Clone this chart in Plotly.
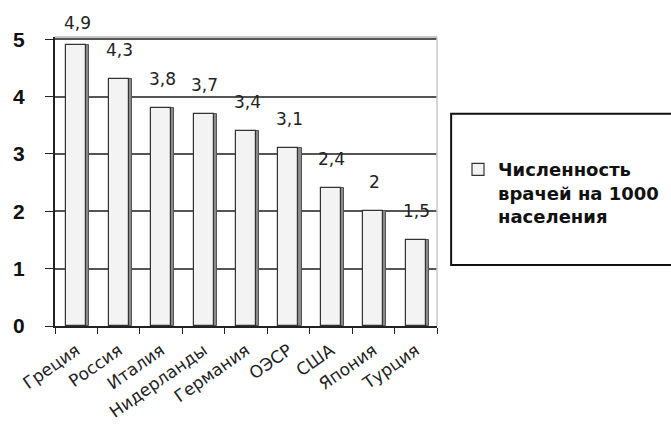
import plotly.graph_objects as go

# Physicians per 1000 population
countries = ["Греция", "Россия", "Италия", "Нидерланды", "Германия",
             "ОЭСР", "США", "Япония", "Турция"]
doctors = [4.9, 4.3, 3.8, 3.7, 3.4, 3.1, 2.4, 2.0, 1.5]
series_name = "Численность<br>врачей на 1000<br>населения"
y_ticks = [0, 1, 2, 3, 4, 5]

FONT = "Liberation Sans, Arial, sans-serif"
WIDE = "DejaVu Sans, Verdana, sans-serif"
BAR_W = 0.47
SIDE = 0.075
Y_MAX = 5.04
PLOT_H = 289  # plot area height in px

fig = go.Figure()

# darker side face gives the bars a slight 3D look
fig.add_trace(go.Bar(
    x=countries, y=doctors, width=BAR_W, offset=-BAR_W / 2 + SIDE,
    marker=dict(color="#8a8a8a", line=dict(color="#555", width=1)),
    showlegend=False, hoverinfo="skip",
))
# front face
fig.add_trace(go.Bar(
    x=countries, y=doctors, width=BAR_W, offset=-BAR_W / 2,
    name=series_name,
    marker=dict(color="#f3f3f3", line=dict(color="#333", width=1.2)),
))

# value labels above the bars, kept inside the page at the top
for c, v in zip(countries, doctors):
    top_px = PLOT_H - v / Y_MAX * PLOT_H + 37
    shift = min(17, top_px - 35)
    fig.add_annotation(
        x=c, y=v, text=f"{v:g}".replace(".", ","), showarrow=False,
        yanchor="bottom", yshift=shift, xshift=1,
        font=dict(family=WIDE, size=17, color="#222"),
    )

# plot border (top / right) in light gray
fig.add_shape(type="line", xref="paper", yref="paper", x0=0, x1=1, y0=1, y1=1,
              line=dict(color="#b5b5b5", width=1.5))
fig.add_shape(type="line", xref="paper", yref="paper", x0=1, x1=1, y0=0, y1=1,
              line=dict(color="#c8c8c8", width=1.5))

# legend frame
fig.add_shape(type="rect", xref="paper", yref="paper",
              x0=1.037, x1=1.66, y0=0.211, y1=0.734,
              line=dict(color="#111", width=2), fillcolor="white", layer="below")

fig.update_layout(
    width=671, height=432,
    margin=dict(l=55, r=234, t=37, b=106, autoexpand=False),
    paper_bgcolor="white", plot_bgcolor="white",
    barmode="overlay",
    bargap=0,
    showlegend=True,
    legend=dict(
        x=1.055, y=0.605, xanchor="left", yanchor="top", valign="top",
        font=dict(family=WIDE, size=18, color="#111", weight="bold"),
        bgcolor="rgba(0,0,0,0)", borderwidth=0,
        itemwidth=30, tracegroupgap=0,
    ),
    xaxis=dict(
        tickangle=-35, showgrid=False,
        showline=True, linecolor="#222", linewidth=2,
        ticks="outside", ticklen=6, tickcolor="#222",
        tickson="boundaries", ticklabelstandoff=6,
        tickfont=dict(family=WIDE, size=17, color="#222"),
    ),
    yaxis=dict(
        range=[0, Y_MAX], tickvals=y_ticks,
        showgrid=True, gridcolor="#555", gridwidth=1.5,
        showline=True, linecolor="#222", linewidth=2,
        ticks="outside", ticklen=8, tickcolor="#222",
        ticklabelstandoff=16,
        tickfont=dict(family=FONT, size=21, color="#111", weight="bold"),
        zeroline=False,
    ),
)

fig.write_html("out.html")
